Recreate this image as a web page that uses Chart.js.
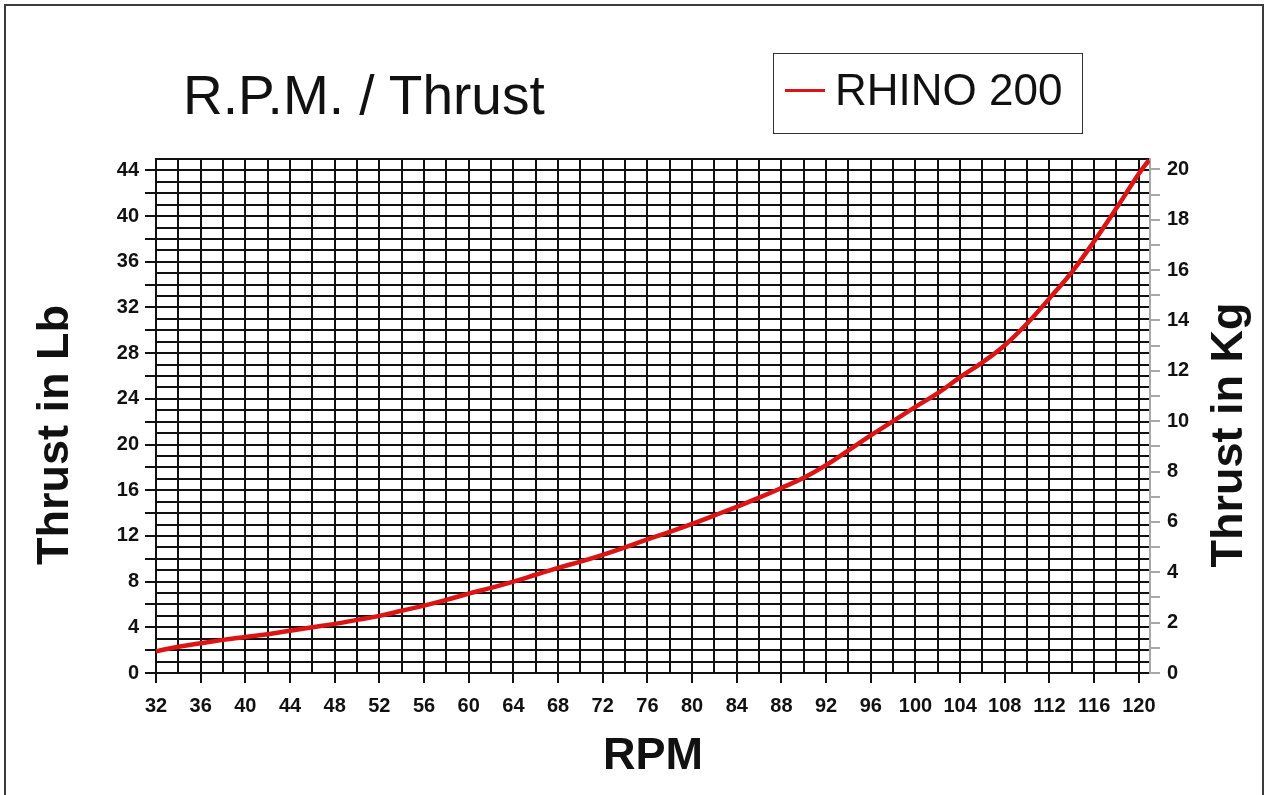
<!DOCTYPE html>
<html>
<head>
<meta charset="utf-8">
<script src="https://cdn.jsdelivr.net/npm/chart.js@4/dist/chart.umd.min.js"></script>
<style>
html,body{margin:0;padding:0;background:#fff;}
#wrap{position:relative;width:1265px;height:795px;overflow:hidden;background:#fff;font-family:"Liberation Sans",Arial,sans-serif;color:#111;}
#frame{position:absolute;left:4px;top:4px;width:1260px;height:900px;border:2px solid #3c3c3c;box-sizing:border-box;}
canvas{position:absolute;left:0;top:0;}
.txt{position:absolute;white-space:nowrap;line-height:1;}
#title{left:183px;top:68px;font-size:55px;}
#legend{position:absolute;left:773px;top:53px;width:310px;height:81px;border:1.5px solid #333;box-sizing:border-box;}
#legline{position:absolute;left:785px;top:89px;width:40px;height:3px;background:rgb(222,20,20);}
#legtext{left:835px;top:68px;font-size:44px;}
.ytitle{font-size:45px;font-weight:bold;transform:translate(-50%,-50%) rotate(-90deg);}
#ylb{left:52px;top:435px;}
#ykg{left:1226px;top:435px;}
</style>
</head>
<body>
<div id="wrap">
  <canvas id="c" width="1265" height="795"></canvas>
  <div id="frame"></div>
  <div class="txt" id="title">R.P.M. / Thrust</div>
  <div id="legend"></div>
  <div id="legline"></div>
  <div class="txt" id="legtext">RHINO 200</div>
  <div class="txt ytitle" id="ylb">Thrust in Lb</div>
  <div class="txt ytitle" id="ykg">Thrust in Kg</div>
</div>
<script>
// ---- data ----
const rpm = [32,34,36,38,40,42,44,46,48,50,52,54,56,58,60,62,64,66,68,70,72,74,76,78,80,82,84,86,88,90,92,94,96,98,100,102,104,106,108,110,112,114,116,118,120,120.9];
const thrustLb = [1.9,2.3,2.6,2.9,3.15,3.4,3.7,4.0,4.3,4.65,5.0,5.45,5.9,6.4,6.95,7.45,8.0,8.6,9.2,9.75,10.35,11.0,11.7,12.35,13.05,13.8,14.55,15.35,16.2,17.1,18.2,19.5,20.8,22.05,23.3,24.5,25.9,27.2,28.7,30.6,32.8,35.1,37.8,40.7,43.7,44.9];
const rpmTickLabels = [32,36,40,44,48,52,56,60,64,68,72,76,80,84,88,92,96,100,104,108,112,116,120];
const lbTickLabels = [0,4,8,12,16,20,24,28,32,36,40,44];
const lbTickMarks = [0,2,4,6,8,10,12,14,16,18,20,22,24,26,28,30,32,34,36,38,40,42,44];
const kgTickLabels = [0,2,4,6,8,10,12,14,16,18,20];
const seriesName = 'RHINO 200';
const LB_PER_KG = 2.20462;
const X_MIN = 32, X_MAX = 121, LB_MAX = 45;

const FONT = '"Liberation Sans", Arial, sans-serif';
const BLACK = '#111';
const GREY = '#a8a8a8';
const RED = 'rgb(222,20,20)';
const CLEAR = 'rgba(0,0,0,0)';

const points = rpm.map((r, i) => ({x: r, y: thrustLb[i]}));

new Chart(document.getElementById('c'), {
  type: 'line',
  data: {
    datasets: [{
      label: seriesName,
      data: points,
      borderColor: RED,
      borderWidth: 4.5,
      pointRadius: 0,
      tension: 0.4,
      fill: false,
      yAxisID: 'y'
    }]
  },
  options: {
    responsive: false,
    animation: false,
    devicePixelRatio: 1,
    layout: {padding: {top: 159, left: 0, right: 0, bottom: 0}},
    plugins: {legend: {display: false}, title: {display: false}, tooltip: {enabled: false}},
    scales: {
      x: {
        type: 'linear', position: 'bottom', min: X_MIN, max: X_MAX,
        afterFit: s => { s.height = 122; },
        ticks: {
          stepSize: 2, includeBounds: false, autoSkip: false, maxRotation: 0, minRotation: 0,
          padding: 11, color: BLACK, font: {family: FONT, size: 20, weight: 'bold'},
          callback: v => rpmTickLabels.includes(v) ? String(v) : ''
        },
        grid: {
          color: BLACK, lineWidth: 2, tickLength: 10, tickWidth: 2,
          tickColor: c => (c.tick && rpmTickLabels.includes(c.tick.value)) ? BLACK : CLEAR
        },
        border: {color: BLACK, width: 2},
        title: {display: true, text: 'RPM', color: BLACK, font: {family: FONT, size: 45, weight: 'bold'}, padding: {top: 0, bottom: 11}}
      },
      y: {
        type: 'linear', position: 'left', min: 0, max: LB_MAX,
        afterFit: s => { s.width = 156; },
        ticks: {
          stepSize: 1, includeBounds: false, autoSkip: false,
          padding: 6, color: BLACK, font: {family: FONT, size: 20, weight: 'bold'},
          callback: v => lbTickLabels.includes(v) ? String(v) : ''
        },
        grid: {
          color: BLACK, lineWidth: 2, tickLength: 11, tickWidth: 2,
          tickColor: c => (c.tick && lbTickMarks.includes(c.tick.value)) ? BLACK : CLEAR
        },
        border: {color: BLACK, width: 2}
      },
      kg: {
        type: 'linear', position: 'right', min: 0, max: LB_MAX / LB_PER_KG,
        afterFit: s => { s.width = 115; },
        ticks: {
          stepSize: 1, includeBounds: false, autoSkip: false,
          padding: 7, color: BLACK, font: {family: FONT, size: 20, weight: 'bold'},
          callback: v => kgTickLabels.includes(v) ? String(v) : ''
        },
        grid: {drawOnChartArea: false, color: GREY, lineWidth: 2, tickLength: 10, tickWidth: 2, tickColor: GREY},
        border: {color: GREY, width: 2}
      }
    }
  }
});
</script>
</body>
</html>
